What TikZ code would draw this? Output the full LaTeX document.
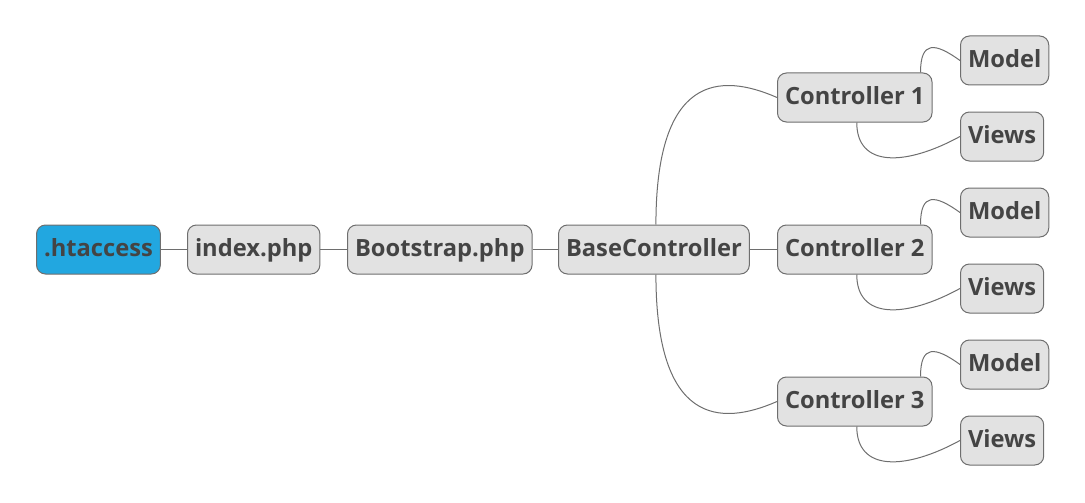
\documentclass[tikz,border=0pt]{standalone}
\usepackage{fontspec}
\setmainfont{Open Sans}
\usetikzlibrary{calc}
\definecolor{boxfill}{HTML}{E2E2E2}
\definecolor{boxline}{HTML}{6E6E6E}
\definecolor{txt}{HTML}{444444}
\definecolor{rootblue}{HTML}{22A7E0}
\tikzset{
  mm/.style={draw=boxline, fill=boxfill, rounded corners=9pt, line width=1pt,
    minimum height=49pt, inner xsep=7.5pt, inner ysep=0pt, anchor=west,
    text height=17pt, text depth=4pt,
    font=\fontsize{23.7}{28}\selectfont\bfseries, text=txt},
  root/.style={mm, fill=rootblue},
  link/.style={draw=boxline, line width=1pt}
}
\begin{document}
\begin{tikzpicture}[x=1pt,y=-1pt]
\useasboundingbox (0,0) rectangle (1085,503);
\node[root] (ht) at (36,249.5) {.htaccess};
\node[mm] (idx) at (187,249.5) {index.php};
\node[mm] (boot) at (347,249.5) {Bootstrap.php};
\node[mm] (base) at (558,249.5) {BaseController};
\node[mm] (c1) at (777,97.5) {Controller 1};
\node[mm] (c2) at (777,249.5) {Controller 2};
\node[mm] (c3) at (777,401.5) {Controller 3};
\node[mm] (m1) at (960,60.5) {Model};
\node[mm] (v1) at (960,136.5) {Views};
\node[mm] (m2) at (960,212.5) {Model};
\node[mm] (v2) at (960,288.5) {Views};
\node[mm] (m3) at (960,364.5) {Model};
\node[mm] (v3) at (960,440.5) {Views};

\draw[link] (ht.east) -- (idx.west);
\draw[link] (idx.east) -- (boot.west);
\draw[link] (boot.east) -- (base.west);
\draw[link] (base.east) -- (c2.west);
\draw[link] ($(base.north)+(2,0)$) .. controls +(0,-150) and +(-57,-25) .. (c1.west);
\draw[link] ($(base.south)+(2,0)$) .. controls +(0,150) and +(-57,25) .. (c3.west);
\foreach \c/\m/\v in {c1/m1/v1, c2/m2/v2, c3/m3/v3}{
  \draw[link] ($(\c.north east)+(-12,0)$) .. controls +(0,-32) and +(-25,-18) .. (\m.west);
  \draw[link] ($(\c.south)+(2,0)$) .. controls +(0,45) and +(-55,30) .. (\v.west);
}
\end{tikzpicture}
\end{document}
